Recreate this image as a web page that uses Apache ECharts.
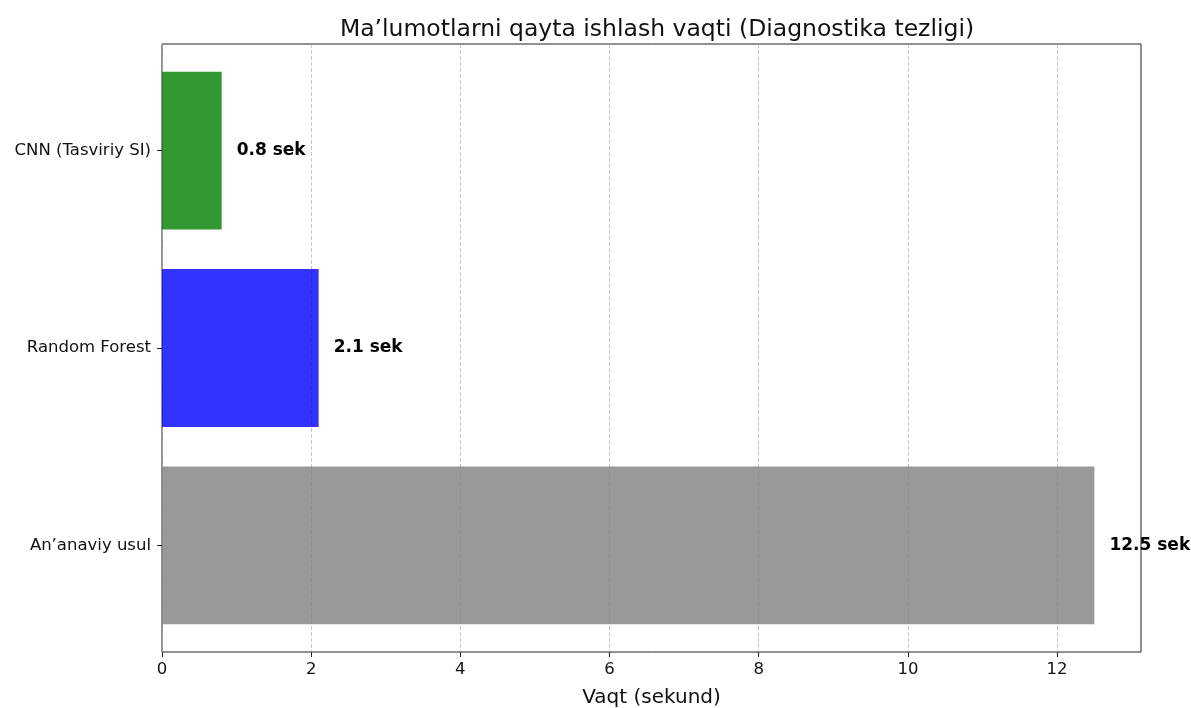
<!DOCTYPE html>
<html>
<head>
<meta charset="utf-8">
<script src="https://cdn.jsdelivr.net/npm/echarts@6/dist/echarts.min.js"></script>
<style>
  html, body { margin: 0; padding: 0; background: #fff; }
  #chart { width: 1191px; height: 708px; }
</style>
</head>
<body>
<div id="chart"></div>
<script>
// Processing time per diagnostic method (seconds), listed bottom to top
const methods = ['An’anaviy usul', 'Random Forest', 'CNN (Tasviriy SI)'];
const seconds = [12.5, 2.1, 0.8];
const barColors = ['rgba(128,128,128,0.8)', 'rgba(0,0,255,0.8)', 'rgba(0,128,0,0.8)'];
const xTicks = [0, 2, 4, 6, 8, 10, 12];
const xMax = 13.125;

const FONT = '"DejaVu Sans", sans-serif';
const chart = echarts.init(document.getElementById('chart'), null, { renderer: 'canvas' });

chart.setOption({
  animation: false,
  backgroundColor: '#ffffff',
  title: {
    text: 'Ma’lumotlarni qayta ishlash vaqti (Diagnostika tezligi)',
    left: 652, top: 13, textAlign: 'center',
    textStyle: { fontFamily: FONT, fontSize: 23.5, fontWeight: 'normal', color: '#111' }
  },
  grid: [
    // bar area: three equal bands centred inside the frame
    { left: 162, right: 50, top: 51.9, bottom: 63.9, outerBoundsMode: 'none', containLabel: false },
    // frame with the value axis
    { left: 162, right: 50, top: 44, bottom: 56, outerBoundsMode: 'none', containLabel: false,
      show: true, borderColor: '#222', borderWidth: 1, backgroundColor: 'transparent', z: 0 }
  ],
  xAxis: [
    { gridIndex: 0, type: 'value', min: 0, max: xMax, show: false },
    {
      gridIndex: 1, type: 'value', min: 0, max: xMax, interval: 2,
      name: 'Vaqt (sekund)', nameLocation: 'middle', nameGap: 36,
      nameTextStyle: { fontFamily: FONT, fontSize: 20, color: '#111' },
      axisLine: { show: false },
      axisTick: { show: true, length: 5, inside: false, customValues: xTicks,
                  lineStyle: { color: '#222', width: 1 } },
      axisLabel: { fontFamily: FONT, fontSize: 16.5, color: '#111', margin: 9,
                   customValues: xTicks },
      splitLine: { show: true, lineStyle: { color: '#b0b0b0', opacity: 0.7, type: [4, 2], width: 1 } }
    }
  ],
  yAxis: [
    {
      gridIndex: 0, type: 'category', data: methods,
      axisLine: { show: false },
      axisTick: { show: true, alignWithLabel: true, length: 5, lineStyle: { color: '#222' } },
      axisLabel: { fontFamily: FONT, fontSize: 16.5, color: '#111', margin: 11 }
    },
    { gridIndex: 1, type: 'value', min: 0, max: 1, show: false, splitLine: { show: false } }
  ],
  series: [{
    type: 'bar',
    xAxisIndex: 0, yAxisIndex: 0,
    barWidth: '80%',
    z: 3,
    data: seconds.map((v, i) => ({
      value: v,
      itemStyle: { color: barColors[i] }
    })),
    label: {
      show: true, position: 'right', distance: 15,
      formatter: p => p.value + ' sek',
      fontFamily: FONT, fontSize: 17, fontWeight: 'bold', color: '#000'
    }
  }]
});
</script>
</body>
</html>
